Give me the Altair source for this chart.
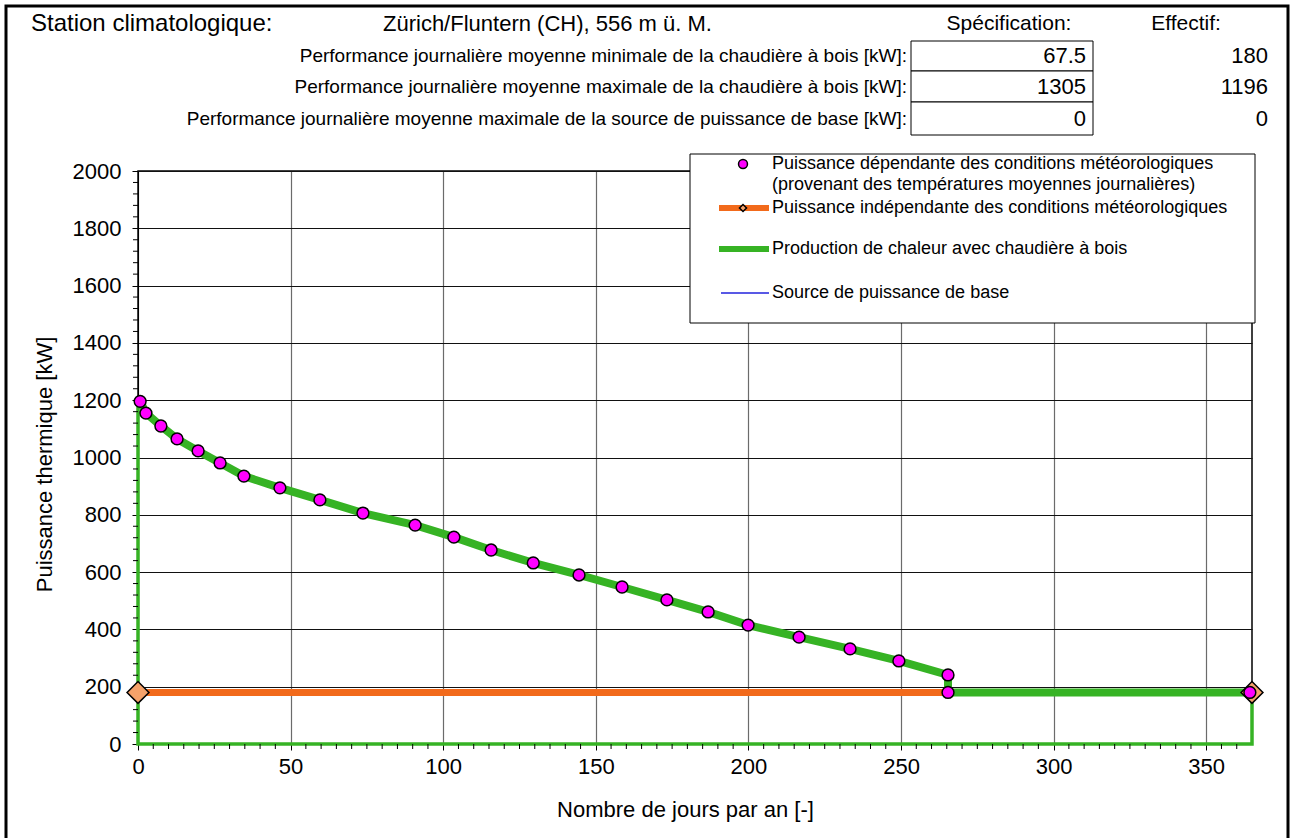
import altair as alt
import pandas as pd

# ---- data ----
day_pts = [0.7, 2.6, 7.5, 12.8, 19.7, 26.9, 34.7, 46.5, 59.6, 73.7, 90.8, 103.5,
           115.7, 129.5, 144.5, 158.6, 173.3, 186.8, 199.9, 216.6, 233.3, 249.3,
           265.4, 265.4, 364.3]
kw_pts = [1196, 1155, 1110, 1065, 1023, 981, 935, 894, 852, 806, 764, 722,
          677, 632, 590, 548, 503, 461, 415, 373, 332, 290, 241, 180, 180]

# wood boiler production (thick upper edge)
wood_days = [0, 0.7, 2.6, 7.5, 12.8, 19.7, 26.9, 34.7, 46.5, 59.6, 73.7, 90.8,
             103.5, 115.7, 129.5, 144.5, 158.6, 173.3, 186.8, 199.9, 216.6,
             233.3, 249.3, 265.4, 265.4, 365]
wood_kw = [1196, 1196, 1155, 1110, 1065, 1023, 981, 935, 894, 852, 806, 764,
           722, 677, 632, 590, 548, 503, 461, 415, 373, 332, 290, 241, 180, 180]
# wood boiler production (thin outline)
wood_out_days = [365, 365, 0, 0]
wood_out_kw = [180, 0, 0, 1196]

indep_days = [0, 365]
indep_kw = [180, 180]
base_days = [0, 365]
base_kw = [0, 0]

x_ticks = [0, 50, 100, 150, 200, 250, 300, 350]
y_ticks = [0, 200, 400, 600, 800, 1000, 1200, 1400, 1600, 1800, 2000]
x_minor = [d for d in range(5, 365, 5) if d % 50 != 0]
y_minor = [v for v in range(40, 2000, 40) if v % 200 != 0]

header_rows = [
    "Performance journalière moyenne minimale de la chaudière à bois  [kW]:",
    "Performance journalière moyenne maximale de la chaudière à bois  [kW]:",
    "Performance journalière moyenne maximale de la source de puissance de base [kW]:",
]
spec_vals = ["67.5", "1305", "0"]
eff_vals = ["180", "1196", "0"]

# ---- colours / fonts ----
GREEN = "#36B324"
ORANGE = "#F26A1B"
MAGENTA = "#FF00FF"
BLUE = "#2222DD"
FONT = "Liberation Sans"

W, H = 1114, 573
OX, OY = 138, 171  # plot origin in page pixels

one = pd.DataFrame({"k": [0]})

xs = alt.Scale(domain=[0, 365], nice=False)
ys = alt.Scale(domain=[0, 2000], nice=False)

def px(v):
    return alt.value(v - OX)

def py(v):
    return alt.value(v - OY)

def text(t, x, y, size=21, align="left", font=FONT):
    return alt.Chart(one).mark_text(text=t, align=align, baseline="middle",
                                    fontSize=size, font=font, color="black").encode(
        x=px(x), y=py(y))

def rect(x1, x2, y1, y2, sw=1, fill="white"):
    return alt.Chart(one).mark_rect(fill=fill, stroke="black", strokeWidth=sw).encode(
        x=px(x1), x2=px(x2), y=py(y1), y2=py(y2))

pts_df = pd.DataFrame({"day": day_pts, "kw": kw_pts})
wood_df = pd.DataFrame({"day": wood_days, "kw": wood_kw, "o": range(len(wood_days))})
wood_out_df = pd.DataFrame({"day": wood_out_days, "kw": wood_out_kw, "o": range(len(wood_out_days))})
indep_df = pd.DataFrame({"day": indep_days, "kw": indep_kw})
base_df = pd.DataFrame({"day": base_days, "kw": base_kw})

X = alt.X("day:Q", scale=xs, title="Nombre de jours par an [-]",
          axis=alt.Axis(values=x_ticks, format="d", gridColor="#6b6b6b",
                        tickSize=6, labelPadding=6, titlePadding=22,
                        labelFlush=False, titleX=547))
Y = alt.Y("kw:Q", scale=ys, title="Puissance thermique [kW]",
          axis=alt.Axis(values=y_ticks, format="d", gridColor="#111111",
                        tickSize=6, labelPadding=11, titlePadding=16,
                        titleY=293))

base_line = alt.Chart(base_df).mark_line(color=BLUE, strokeWidth=1.5).encode(x=X, y=Y)
wood_out = alt.Chart(wood_out_df).mark_line(color=GREEN, strokeWidth=3.5).encode(
    x=alt.X("day:Q", scale=xs), y=alt.Y("kw:Q", scale=ys), order="o:Q")
indep_line = alt.Chart(indep_df).mark_line(color=ORANGE, strokeWidth=7).encode(
    x=alt.X("day:Q", scale=xs), y=alt.Y("kw:Q", scale=ys))
wood_line = alt.Chart(wood_df).mark_line(color=GREEN, strokeWidth=8).encode(
    x=alt.X("day:Q", scale=xs), y=alt.Y("kw:Q", scale=ys), order="o:Q")
diamonds = alt.Chart(indep_df).mark_point(shape="diamond", size=480, filled=True,
                                          fill="#F6A26A", stroke="black",
                                          strokeWidth=1.5, opacity=1).encode(
    x=alt.X("day:Q", scale=xs), y=alt.Y("kw:Q", scale=ys))
points = alt.Chart(pts_df).mark_point(shape="circle", size=140, filled=True,
                                      fill=MAGENTA, stroke="black", strokeWidth=1.5,
                                      opacity=1).encode(
    x=alt.X("day:Q", scale=xs), y=alt.Y("kw:Q", scale=ys))

xminor = alt.Chart(pd.DataFrame({"day": x_minor})).mark_rule(color="black", strokeWidth=1).encode(
    x=alt.X("day:Q", scale=xs), y=alt.value(H), y2=alt.value(H + 5))
yminor = alt.Chart(pd.DataFrame({"kw": y_minor})).mark_rule(color="black", strokeWidth=1).encode(
    y=alt.Y("kw:Q", scale=ys), x=alt.value(-5), x2=alt.value(0))

# legend
LEG = 18
legend = [
    rect(690, 1255, 154, 323),
    alt.Chart(one).mark_point(shape="circle", size=80, filled=True, fill=MAGENTA,
                              stroke="black", strokeWidth=1.5, opacity=1).encode(
        x=px(743), y=py(164)),
    text("Puissance dépendante des conditions météorologiques", 772, 164, LEG),
    text("(provenant des températures moyennes journalières)", 772, 185, LEG),
    alt.Chart(one).mark_rule(color=ORANGE, strokeWidth=6).encode(
        x=px(719), x2=px(769), y=py(208)),
    alt.Chart(one).mark_point(shape="diamond", size=50, filled=True, fill="#F6A26A",
                              stroke="black", strokeWidth=1.5, opacity=1).encode(
        x=px(743), y=py(208)),
    text("Puissance indépendante des conditions météorologiques", 772, 208, LEG),
    alt.Chart(one).mark_rule(color=GREEN, strokeWidth=6).encode(
        x=px(719), x2=px(769), y=py(249)),
    text("Production de chaleur avec chaudière à bois", 772, 249, LEG),
    alt.Chart(one).mark_rule(color=BLUE, strokeWidth=1.5).encode(
        x=px(721), x2=px(769), y=py(293)),
    text("Source de puissance de base", 772, 293, LEG),
]

# header
row_y = [56, 87, 119]
box_y = [(41, 71), (71, 102), (102, 135)]
header = [
    alt.Chart(one).mark_rect(fill=None, filled=False, stroke="black", strokeWidth=3).encode(
        x=px(6), x2=px(1288), y=py(6), y2=py(850)),
    text("Station climatologique:", 31, 24, 24),
    text("Zürich/Fluntern (CH), 556 m ü. M.", 383, 24, 22),
    text("Spécification:", 1009, 24, 21, "center"),
    text("Effectif:", 1186, 24, 21, "center"),
]
for i in range(3):
    header.append(rect(911, 1093, box_y[i][0], box_y[i][1]))
    header.append(text(header_rows[i], 907, row_y[i], 19, "right"))
    header.append(text(spec_vals[i], 1086, row_y[i], 22, "right"))
    header.append(text(eff_vals[i], 1268, row_y[i], 22, "right"))

chart = alt.layer(
    base_line, wood_out, indep_line, wood_line, xminor, yminor, diamonds, points,
    *legend, *header,
).properties(
    width=W, height=H,
    padding={"left": OX, "top": OY, "right": 1290 - OX - W, "bottom": 838 - OY - H},
    autosize=alt.AutoSizeParams(type="none"),
    background="white",
).configure_view(
    stroke="black", strokeWidth=1.5
).configure_axis(
    labelFont=FONT, labelFontSize=22, labelColor="black",
    titleFont=FONT, titleFontSize=22, titleColor="black", titleFontWeight="normal",
    domainColor="black", tickColor="black", gridOpacity=1, gridWidth=1.2,
)

chart.save("out.html", embed_options={"renderer": "svg", "actions": False})
